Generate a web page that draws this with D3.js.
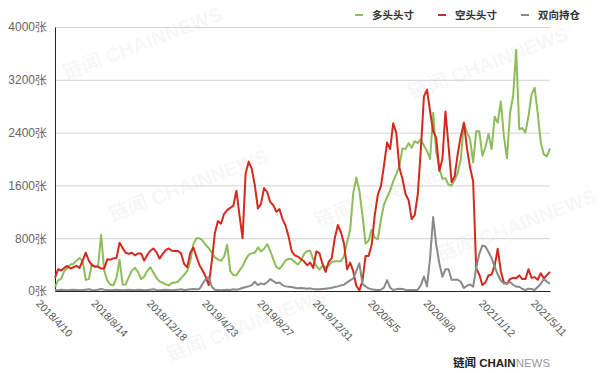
<!DOCTYPE html>
<html>
<head>
<meta charset="utf-8">
<script src="https://cdn.jsdelivr.net/npm/d3@7"></script>
<style>
	body { margin: 0; background: #fff; }
	svg { display: block; font-family: "Liberation Sans", "Noto Sans CJK SC", sans-serif; }
</style>
</head>
<body>
<svg width="600" height="373"></svg>
<script>
// weekly report dates, first one
const firstDate = '2018/4/10';

const seriesNames = ['多头头寸', '空头头寸', '双向持仓'];

const tickLabels = ['2018/4/10', '2018/8/14', '2018/12/18', '2019/4/23', '2019/8/27',
	'2019/12/31', '2020/5/5', '2020/9/8', '2021/1/12', '2021/5/11'];

const yTicks = [0, 800, 1600, 2400, 3200, 4000];

// 多头头寸
const longPos = [
	60, 160, 185, 300, 350, 400, 410, 460, 500, 450,
	170, 180, 410, 360, 370, 850, 310, 160, 95, 85,
	200, 475, 100, 100, 210, 310, 350, 290, 180, 215,
	305, 360, 280, 200, 145, 125, 100, 85, 120, 130,
	140, 195, 245, 305, 450, 710, 800, 800, 765, 700,
	650, 580, 510, 480, 455, 520, 700, 300, 240, 240,
	310, 375, 475, 550, 570, 580, 660, 600, 640, 710,
	610, 480, 360, 335, 390, 465, 490, 480, 440, 400,
	460, 560, 605, 610, 480, 380, 325, 380, 360, 380,
	440, 450, 450, 450, 530, 740, 930, 1480, 1720, 1520,
	1150, 720, 760, 930, 810, 780, 1075, 1310, 1420, 1520,
	1660, 1770, 1880, 2160, 2150, 2240, 2170, 2270, 2240, 2300,
	2200, 2120, 2000, 2700, 2100, 1870, 1700, 1710, 1610, 1600,
	1680, 1790, 2000, 2550, 2400, 2300, 1950, 2420, 2420, 2050,
	2180, 2380, 2150, 2640, 2550, 2870, 2350, 2010, 2700, 2950,
	3650, 2450, 2470, 2400, 2650, 2980, 3080, 2700, 2250, 2070,
	2040, 2160
];

// 空头头寸
const shortPos = [
	200, 330, 310, 350, 380, 340, 360, 380, 350, 460,
	580, 460, 390, 370, 370, 340, 340, 480, 475, 495,
	500, 730, 650, 580, 565, 580, 540, 570, 570, 460,
	545, 610, 645, 590, 490, 560, 620, 645, 610, 605,
	605, 570, 410, 360, 580, 660, 520, 390, 310, 220,
	90, 450, 880, 1060, 1020, 1170, 1225, 1260, 1290, 1520,
	1150, 800, 1780, 1960, 1850, 1600, 1250, 1320, 1560, 1500,
	1350, 1300, 1200, 1240, 1090, 990, 820, 600, 540, 520,
	485, 450, 390, 430, 350, 600, 575, 410, 290, 440,
	495, 800, 1000, 890, 720, 330, 430, 300, 80, 10,
	150, 530, 530, 700, 1150, 1460, 1590, 1900, 2250, 2150,
	2540, 2400, 1870, 1700, 1470, 1380, 1090, 1150, 1470, 2150,
	2950, 3050, 2720, 2420, 2320, 1820, 2000, 2720, 2200, 1650,
	1740, 2080, 2350, 2550, 2160, 1870, 1660, 340, 250, 90,
	130, 235, 250, 380, 640, 300, 130, 110, 180, 200,
	195, 235, 180, 180, 330, 200, 210, 170, 270, 190,
	240, 290
];

// 双向持仓
const bothPos = [
	15, 10, 20, 15, 10, 15, 20, 15, 10, 15,
	20, 25, 15, 10, 20, 30, 20, 15, 10, 15,
	20, 15, 10, 15, 20, 15, 10, 20, 15, 10,
	15, 20, 25, 15, 10, 15, 20, 15, 10, 15,
	20, 25, 15, 20, 25, 30, 25, 30, 110, 180,
	210, 65, 20, 15, 10, 15, 20, 15, 25, 20,
	30, 45, 60, 70, 90, 140, 90, 115, 100, 130,
	180, 150, 120, 130, 90, 70, 65, 60, 50, 40,
	45, 40, 35, 40, 30, 25, 25, 30, 35, 40,
	50, 60, 70, 85, 95, 130, 160, 190, 300, 420,
	110, 70, 40, 25, 20, 15, 20, 50, 165, 50,
	15, 25, 35, 30, 20, 15, 15, 15, 20, 90,
	220, 70, 500, 1120, 700, 420, 215, 330, 330, 170,
	170, 170, 140, 45, 80, 100, 65, 350, 560, 690,
	675, 590, 500, 370, 250, 160, 115, 115, 135, 95,
	65, 65, 30, 15, 35, 30, 15, 60, 110, 185,
	140, 110
];

const colors = ['#8dbd5a', '#d22a1f', '#8a8a8a'];

function init() {
	const svg = d3.select('svg');
	const margin = {top: 27, right: 50, bottom: 82, left: 55};
	const width = 600 - margin.left - margin.right;
	const height = 373 - margin.top - margin.bottom;

	const fmt = d3.timeFormat('%Y/%-m/%-d');
	const start = d3.timeParse('%Y/%-m/%-d')(firstDate);
	const dates = longPos.map((d, i) => {
		return fmt(d3.timeDay.offset(start, 7 * i));
	});
	const tickIdx = tickLabels.map(l => {
		return dates.indexOf(l);
	});

	const x = d3.scaleLinear().domain([0, dates.length - 1]).range([0, width]);
	const y = d3.scaleLinear().domain([0, 4000]).range([height, 0]);

	// faint watermarks
	const marks = [[66, 80], [112, 222], [318, 228], [412, 100], [440, 262], [170, 362]];
	svg.append('g')
		.selectAll('text')
		.data(marks)
		.join('text')
		.attr('transform', d => {
			return 'translate(' + d[0] + ',' + d[1] + ') rotate(-21)';
		})
		.attr('font-size', 20)
		.attr('font-weight', 'bold')
		.attr('fill', '#000')
		.attr('fill-opacity', 0.05)
		.text('链闻 CHAINNEWS');

	const g = svg.append('g')
		.attr('transform', 'translate(' + margin.left + ',' + margin.top + ')');

	// grid
	g.append('g')
		.attr('class', 'grid')
		.call(d3.axisLeft(y).tickValues(yTicks.slice(1)).tickSize(-width).tickFormat(''))
		.call(a => {
			a.select('.domain').remove();
		})
		.selectAll('line')
		.attr('stroke', '#d2d2d2');

	// y axis
	const yAxis = g.append('g')
		.call(d3.axisLeft(y).tickValues(yTicks).tickSize(0).tickPadding(8).tickFormat(d => {
			return d + '张';
		}));
	yAxis.select('.domain').attr('stroke', '#222');
	yAxis.selectAll('text')
		.attr('font-size', 12)
		.attr('fill', '#666');

	const line = d3.line()
		.x((d, i) => {
			return x(i);
		})
		.y(d => {
			return y(d);
		});

	g.selectAll('.series')
		.data([longPos, shortPos, bothPos])
		.join('path')
		.attr('class', 'series')
		.attr('fill', 'none')
		.attr('stroke', (d, i) => {
			return colors[i];
		})
		.attr('stroke-width', 2)
		.attr('stroke-linejoin', 'round')
		.attr('d', line);

	// x axis
	const xAxis = g.append('g')
		.attr('transform', 'translate(0,' + height + ')')
		.call(d3.axisBottom(x).tickValues(tickIdx).tickSize(0).tickFormat(i => {
			return dates[i];
		}));
	xAxis.select('.domain').attr('stroke', '#222');
	xAxis.selectAll('text')
		.attr('font-size', 10.5)
		.attr('fill', '#555')
		.attr('text-anchor', 'start')
		.attr('dy', null)
		.attr('y', null)
		.attr('transform', 'translate(-20,13) rotate(46)');

	// legend
	const legend = svg.append('g').attr('transform', 'translate(355,15)');
	let lx = 0;
	seriesNames.forEach((name, i) => {
		const item = legend.append('g').attr('transform', 'translate(' + lx + ',0)');
		item.append('line')
			.attr('x1', 0).attr('x2', 8)
			.attr('stroke', colors[i])
			.attr('stroke-width', 2);
		const t = item.append('text')
			.attr('x', 17)
			.attr('dy', '0.36em')
			.attr('font-size', 10.5)
			.attr('font-weight', 'bold')
			.attr('fill', '#333')
			.text(name);
		lx += 17 + t.node().getComputedTextLength() + 24;
	});

	// logo
	const logo = svg.append('text')
		.attr('x', 453)
		.attr('y', 367)
		.attr('font-size', 11.5)
		.attr('font-weight', 'bold');
	logo.append('tspan').attr('fill', '#222').text('链闻 CHAIN');
	logo.append('tspan').attr('fill', '#9a9a9a').attr('font-weight', 'normal').text('NEWS');
}

init();
</script>
</body>
</html>
